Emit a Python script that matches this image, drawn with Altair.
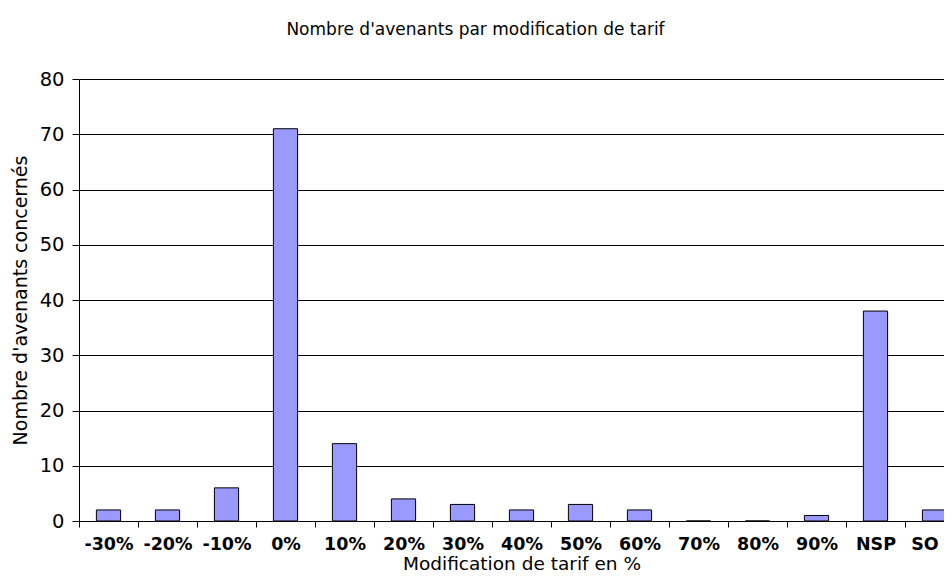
import altair as alt
import pandas as pd

categories = ["-30%", "-20%", "-10%", "0%", "10%", "20%", "30%", "40%", "50%",
              "60%", "70%", "80%", "90%", "NSP", "SO"]
counts = [2, 2, 6, 71, 14, 4, 3, 2, 3, 2, 0, 0, 1, 38, 2]

df = pd.DataFrame({"cat": categories, "n": counts})

FONT = "DejaVu Sans"

chart = alt.Chart(df).mark_bar(
    fill="#9999FF", stroke="#000000", strokeWidth=1, width={"band": 0.41}
).encode(
    x=alt.X("cat:N", sort=categories,
            scale=alt.Scale(paddingInner=0, paddingOuter=0, range=[0, 885]),
            axis=alt.Axis(title="Modification de tarif en %", labelAngle=0,
                          labelFontWeight="bold", labelFont=FONT, labelFontSize=17.5,
                          labelColor="#000", tickBand="extent", tickColor="#000",
                          tickSize=6, domainColor="#000", labelPadding=8,
                          labelOffset=alt.expr("datum.label == 'SO' ? -10 : 0"),
                          titleFont=FONT, titleFontSize=18.5, titleFontWeight="normal",
                          titleColor="#000", titlePadding=2, grid=False)),
    y=alt.Y("n:Q", scale=alt.Scale(domain=[0, 80], nice=False),
            axis=alt.Axis(title="Nombre d'avenants concernés", values=list(range(0, 81, 10)),
                          labelFont=FONT, labelFontSize=19.5, labelColor="#000",
                          tickColor="#000", tickSize=7, domainColor="#000",
                          gridColor="#000", gridOpacity=1, gridWidth=1,
                          titleFont=FONT, titleFontSize=19, titleFontWeight="normal",
                          titleColor="#000", titlePadding=9, labelPadding=8)),
).properties(
    width=865, height=442,
    title=alt.TitleParams("Nombre d'avenants par modification de tarif",
                          font=FONT, fontSize=17, fontWeight="normal", color="#000",
                          anchor="middle", dx=-36, offset=30),
    autosize=alt.AutoSizeParams(type="none"),
    padding={"left": 71, "top": 71, "right": 0, "bottom": 55},
).configure_view(stroke=None).configure(background="white")

chart.save("out.html", embed_options={"renderer": "svg", "actions": False})
